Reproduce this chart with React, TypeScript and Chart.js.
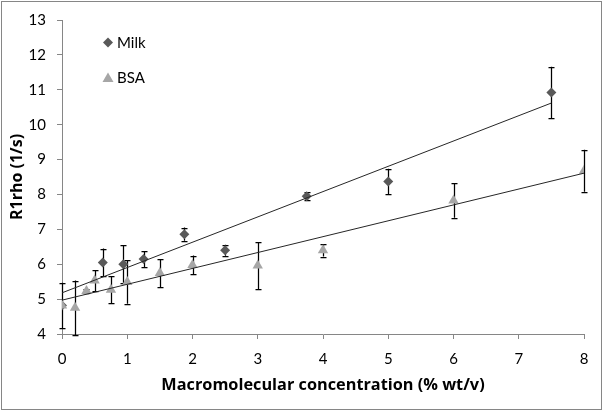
import React, { useEffect, useRef } from "react";
import { Chart, registerables } from "chart.js";

Chart.register(...registerables);

const milkX = [0, 0.625, 0.94, 1.25, 1.875, 2.5, 3.75, 5, 7.5];
const milkY = [4.82, 6.05, 6.0, 6.15, 6.86, 6.4, 7.95, 8.37, 10.92];
const milkErr = [0.65, 0.4, 0.55, 0.23, 0.19, 0.16, 0.11, 0.37, 0.74];

const bsaX = [0, 0.2, 0.375, 0.5, 0.75, 1.0, 1.5, 2, 3, 4, 6, 8];
const bsaY = [4.82, 4.75, 5.23, 5.53, 5.27, 5.49, 5.75, 5.98, 5.96, 6.4, 7.83, 8.68];
const bsaErr = [0, 0.78, 0.05, 0.3, 0.38, 0.62, 0.4, 0.27, 0.67, 0.18, 0.5, 0.6];

const milkTrendX = [0, 7.5];
const milkTrendY = [5.18, 10.62];
const bsaTrendX = [0, 8];
const bsaTrendY = [4.97, 8.61];

const xTicks = [0, 1, 2, 3, 4, 5, 6, 7, 8];
const yTicks = [4, 5, 6, 7, 8, 9, 10, 11, 12, 13];

const seriesNames = ["Milk", "BSA"];
const xTitle = "Macromolecular concentration (% wt/v)";
const yTitle = "R1rho (1/s)";

const MILK_COLOR = "#595959";
const BSA_COLOR = "#A6A6A6";
const AXIS_COLOR = "#868686";
const FONT = "Lato, 'Open Sans', sans-serif";
const TITLE_FONT = "'Open Sans', Lato, sans-serif";

const zip = (xs: number[], ys: number[]) => xs.map((x, i) => ({ x, y: ys[i] }));

const errorBarPlugin = {
  id: "errorBars",
  beforeDatasetsDraw(chart: any) {
    const { ctx, scales } = chart;
    const xs = scales.x;
    const ys = scales.y;
    const draw = (X: number[], Y: number[], E: number[]) => {
      X.forEach((x, i) => {
        const e = E[i];
        if (!e) return;
        const px = Math.round(xs.getPixelForValue(x)) + 0.5;
        const top = ys.getPixelForValue(Y[i] + e);
        const bot = ys.getPixelForValue(Y[i] - e);
        ctx.beginPath();
        ctx.moveTo(px, top);
        ctx.lineTo(px, bot);
        ctx.moveTo(px - 3, Math.round(top) + 0.5);
        ctx.lineTo(px + 3, Math.round(top) + 0.5);
        ctx.moveTo(px - 3, Math.round(bot) + 0.5);
        ctx.lineTo(px + 3, Math.round(bot) + 0.5);
        ctx.stroke();
      });
    };
    ctx.save();
    ctx.strokeStyle = "#000000";
    ctx.lineWidth = 1.25;
    draw(milkX, milkY, milkErr);
    draw(bsaX, bsaY, bsaErr);
    ctx.restore();
  },
};

const legendBorderPlugin = {
  id: "legendBorder",
  afterDraw(chart: any) {
    const { ctx } = chart;
    ctx.save();
    ctx.strokeStyle = AXIS_COLOR;
    ctx.lineWidth = 1;
    ctx.strokeRect(1.5, 1.5, 600, 408);
    ctx.font = `15px ${FONT}`;
    ctx.textBaseline = "middle";
    ctx.fillStyle = MILK_COLOR;
    ctx.beginPath();
    ctx.moveTo(108, 37.5);
    ctx.lineTo(113, 42.5);
    ctx.lineTo(108, 47.5);
    ctx.lineTo(103, 42.5);
    ctx.closePath();
    ctx.fill();
    ctx.fillStyle = "#000000";
    ctx.fillText(seriesNames[0], 117, 43);
    ctx.fillStyle = BSA_COLOR;
    ctx.beginPath();
    ctx.moveTo(108, 72.5);
    ctx.lineTo(113.5, 82);
    ctx.lineTo(102.5, 82);
    ctx.closePath();
    ctx.fill();
    ctx.fillStyle = "#000000";
    ctx.fillText(seriesNames[1], 117, 78);
    ctx.restore();
  },
};

export default function App() {
  const ref = useRef<HTMLCanvasElement>(null);
  useEffect(() => {
    document.body.style.margin = "0";
    if (!ref.current) return;
    const chart = new Chart(ref.current, {
      type: "scatter",
      data: {
        datasets: [
          {
            label: seriesNames[0] + " trend",
            data: zip(milkTrendX, milkTrendY),
            showLine: true,
            borderColor: "#262626",
            borderWidth: 1,
            pointRadius: 0,
          },
          {
            label: seriesNames[1] + " trend",
            data: zip(bsaTrendX, bsaTrendY),
            showLine: true,
            borderColor: "#262626",
            borderWidth: 1,
            pointRadius: 0,
          },
          {
            label: seriesNames[1],
            data: zip(bsaX, bsaY),
            pointStyle: "triangle",
            pointRadius: 6,
            backgroundColor: BSA_COLOR,
            borderColor: BSA_COLOR,
            borderWidth: 0,
          },
          {
            label: seriesNames[0],
            data: zip(milkX, milkY),
            pointStyle: "rectRot",
            pointRadius: 5,
            backgroundColor: MILK_COLOR,
            borderColor: MILK_COLOR,
            borderWidth: 0,
          },
        ],
      },
      options: {
        responsive: false,
        animation: false,
        layout: { padding: { left: 0, right: 20, top: 15, bottom: 0 } },
        plugins: {
          legend: { display: false },
          tooltip: { enabled: false },
        },
        scales: {
          x: {
            type: "linear",
            min: 0,
            max: 8,
            afterBuildTicks: (s: any) => {
              s.ticks = xTicks.map((v) => ({ value: v }));
            },
            afterFit: (s: any) => {
              s.height = 80;
            },
            ticks: {
              color: "#000",
              font: { family: FONT, size: 15 },
              padding: 11,
              maxRotation: 0,
            },
            grid: {
              drawOnChartArea: false,
              drawTicks: true,
              tickLength: 5,
              color: AXIS_COLOR,
            },
            border: { color: AXIS_COLOR },
            title: {
              display: true,
              text: xTitle,
              color: "#000",
              font: { family: TITLE_FONT, size: 16.3, weight: "bold" },
              padding: { top: 0, bottom: 19 },
            },
          },
          y: {
            type: "linear",
            min: 4,
            max: 13,
            afterBuildTicks: (s: any) => {
              s.ticks = yTicks.map((v) => ({ value: v }));
            },
            afterFit: (s: any) => {
              s.width = 62;
            },
            ticks: {
              color: "#000",
              font: { family: FONT, size: 15 },
              padding: 11,
            },
            grid: {
              drawOnChartArea: false,
              drawTicks: true,
              tickLength: 5,
              color: AXIS_COLOR,
            },
            border: { color: AXIS_COLOR },
            title: {
              display: true,
              text: yTitle,
              color: "#000",
              font: { family: TITLE_FONT, size: 16, weight: "bold" },
              padding: { top: 7.5, bottom: 0 },
            },
          },
        },
      },
      plugins: [errorBarPlugin, legendBorderPlugin],
    } as any);
    return () => chart.destroy();
  }, []);
  return (
    <div style={{ width: 604, height: 414 }}>
      <canvas ref={ref} width={604} height={414} style={{ display: "block" }} />
    </div>
  );
}
